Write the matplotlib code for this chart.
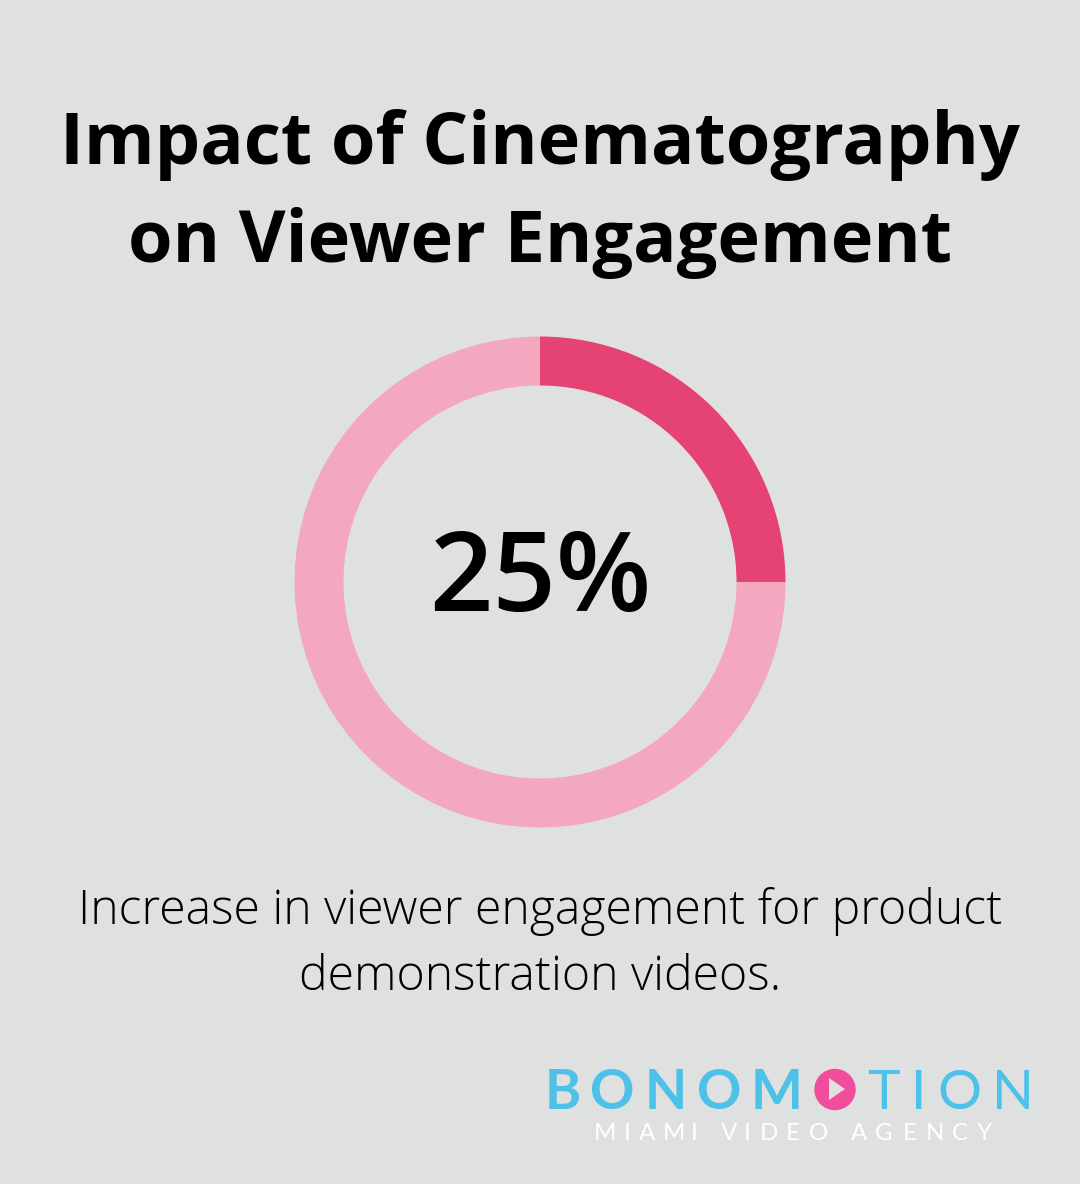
import matplotlib
matplotlib.use("Agg")
import matplotlib.pyplot as plt
from matplotlib.patches import Circle, Polygon

W, H = 1080, 1184
title_lines = ["Impact of Cinematography", "on Viewer Engagement"]
share_values = [25, 75]
share_colors = ["#E64375", "#F3A8BF"]
center_label = "25%"
caption_lines = ["Increase in viewer engagement for product", "demonstration videos."]
logo_bold = "BONOM"
logo_light = "TION"
logo_sub = "MIAMIVIDEOAGENCY"

BG = "#DFE1E0"
fig = plt.figure(figsize=(W/100, H/100), dpi=100, facecolor=BG)
bg = fig.add_axes([0, 0, 1, 1])
bg.set_xlim(0, W); bg.set_ylim(H, 0); bg.axis("off")

def text(x, y, s, px, weight="normal", color="black", ha="center", va="center", family="Open Sans"):
    bg.text(x, y, s, fontsize=px*0.72, family=family, fontweight=weight, color=color, ha=ha, va=va)

text(540, 145, title_lines[0], 72.2, "bold")
text(540, 243, title_lines[1], 72.2, "bold")
text(540, 912, caption_lines[0], 48.2, "light")
text(540, 978, caption_lines[1], 48.2, "light")

R = 245.5
ax = fig.add_axes([(540-R)/W, 1-(582+R)/H, 2*R/W, 2*R/H])
ax.pie(share_values, colors=share_colors, startangle=90, counterclock=False, radius=1,
       wedgeprops=dict(width=49/R, linewidth=0))
ax.set_xlim(-1, 1); ax.set_ylim(-1, 1)
ax.patch.set_alpha(0)
text(540, 583, center_label, 111, "semibold")

# logo, set letter by letter because of its wide tracking
blue = "#4DC1E8"; pink = "#F04E9C"; white = "#FFFFFF"
for ch, xp in zip(logo_bold, [563, 612.5, 665.5, 719, 776.5]):
    text(xp, 1109, ch, 55, "bold", blue, va="baseline", family="Lato")
bg.add_patch(Circle((835, 1089.5), 20.7, color=pink, lw=0))
bg.add_patch(Polygon([(829, 1078), (829, 1100), (845, 1089)], closed=True, color=BG, lw=0))
for ch, xp in zip(logo_light, [883.5, 918.5, 959, 1012.5]):
    text(xp, 1109, ch, 55, "normal", blue, va="baseline", family="Lato")
sub_x = [605, 627, 647, 674, 694, 729, 747, 769, 793, 818, 859, 884, 910, 935, 960, 984]
for ch, xp in zip(logo_sub, sub_x):
    text(xp, 1140, ch, 24, "normal", white, va="baseline", family="Lato")

fig.savefig("out.png", dpi=100, facecolor=BG)
